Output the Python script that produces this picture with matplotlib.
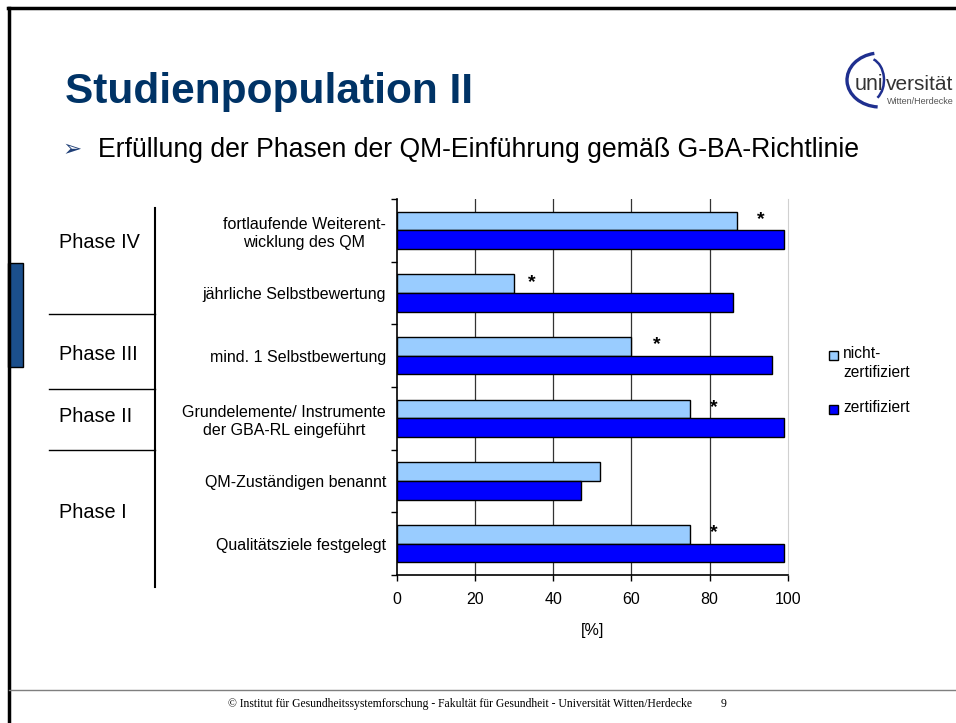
import numpy as np
import matplotlib.pyplot as plt
from matplotlib.patches import Rectangle, Arc

plt.rcParams['font.family'] = ['Liberation Sans', 'DejaVu Sans']

# Werte je Kategorie (oben -> unten), Anteil in %
kategorien = [
    'fortlaufende Weiterent-\nwicklung des QM',
    'jährliche Selbstbewertung',
    'mind. 1 Selbstbewertung',
    'Grundelemente/ Instrumente\nder GBA-RL eingeführt',
    'QM-Zuständigen benannt',
    'Qualitätsziele festgelegt',
]
nicht_zertifiziert = [87, 30, 60, 75, 52, 75]
zertifiziert = [99, 86, 96, 99, 47, 99]
# Position der Signifikanz-Sternchen (None = kein Stern)
stern_x = [93, 34.5, 66.5, 81, None, 81]

x_ticks = [0, 20, 40, 60, 80, 100]
serien_namen = ['nicht-\nzertifiziert', 'zertifiziert']
farbe_hell = '#99CCFF'
farbe_dunkel = '#0000FF'

W, H = 956, 723
fig = plt.figure(figsize=(W / 100, H / 100), dpi=100)

# Hintergrund-Achse in Pixelkoordinaten fuer Folienelemente
bg = fig.add_axes([0, 0, 1, 1])
bg.set_xlim(0, W)
bg.set_ylim(H, 0)
bg.axis('off')

# Folienrahmen
bg.plot([8, W], [8, 8], color='black', lw=2.5)
bg.plot([9, 9], [8, H], color='black', lw=2.5)
bg.add_patch(Rectangle((8, 263), 15, 104, facecolor='#1B4F8C', edgecolor='black', lw=1))
bg.plot([9, W], [690, 690], color='#7F7F7F', lw=1)

# Titel und Untertitel
bg.text(65, 103, 'Studienpopulation II', fontsize=30.5, fontweight='bold',
        color='#003366', va='baseline', ha='left')
bg.text(62, 156, '➢', fontsize=16.5, color='#1F3F77', va='baseline', ha='left',
        family=['DejaVu Sans'])
bg.text(98, 157, 'Erfüllung der Phasen der QM-Einführung gemäß G-BA-Richtlinie',
        fontsize=19.2, color='black', va='baseline', ha='left')

# Logo
bg.add_patch(Arc((880, 80), 66, 54, theta1=95, theta2=258, color='#1F2F8F', lw=2.4))
bg.add_patch(Arc((868, 80), 32, 44, theta1=-75, theta2=62, color='#1F2F8F', lw=1.8))
bg.text(855, 90, 'uni', fontsize=15.5, color='#333333', va='baseline', ha='left')
bg.text(886, 90, 'versität', fontsize=15, color='#333333', va='baseline', ha='left')
bg.text(887, 104, 'Witten/Herdecke', fontsize=6.5, color='#555555', va='baseline', ha='left')

# Fusszeile
bg.text(460, 707, '© Institut für Gesundheitssystemforschung - Fakultät für Gesundheit - '
        'Universität Witten/Herdecke', fontsize=8.4, family='Liberation Serif',
        ha='center', va='baseline', color='black')
bg.text(724, 707, '9', fontsize=8.4, family='Liberation Serif', ha='center',
        va='baseline', color='black')

# Phasen-Einteilung links
bg.plot([155.5, 155.5], [208, 587], color='black', lw=1.5)
for yy in [314, 389, 450]:
    bg.plot([49, 155.5], [yy, yy], color='black', lw=1)
for name, yy in [('Phase IV', 243), ('Phase III', 355), ('Phase II', 417), ('Phase I', 513)]:
    bg.text(59, yy, name, fontsize=14.3, ha='left', va='center', color='black')

# Legende: Kaestchen auf Hoehe der ersten Textzeile
for name, farbe, yy in zip(serien_namen, [farbe_hell, farbe_dunkel], [355, 409]):
    bg.add_patch(Rectangle((829, yy - 4.5), 9, 9, facecolor=farbe, edgecolor='black', lw=1))
    bg.text(843, yy - 9, name, fontsize=11.2, ha='left', va='top', color='black',
            linespacing=1.3)

# Balkendiagramm
ax = fig.add_axes([397 / W, 1 - 575 / H, 390.7 / W, 376 / H])
y = np.arange(len(kategorien))
h = 0.3
ax.barh(y - h / 2, nicht_zertifiziert, height=h, color=farbe_hell,
        edgecolor='black', lw=1, zorder=3)
ax.barh(y + h / 2, zertifiziert, height=h, color=farbe_dunkel,
        edgecolor='black', lw=1, zorder=3)

for i, sx in enumerate(stern_x):
    if sx is not None:
        ax.text(sx, y[i] - h / 2 - 0.02, '*', fontsize=14, fontweight='bold',
                ha='center', va='center', zorder=4)

ax.set_xlim(0, 100)
ax.set_ylim(len(kategorien) - 0.5, -0.5)
ax.set_xticks(x_ticks)
ax.set_xticklabels([str(t) for t in x_ticks], fontsize=11.5)
ax.set_yticks(np.arange(len(kategorien) + 1) - 0.5)
ax.set_yticklabels([])
ax.set_yticks(y, minor=True)
ax.set_yticklabels(kategorien, minor=True, fontsize=11.5, multialignment='center',
                   linespacing=1.3)
ax.tick_params(axis='y', which='minor', length=0, pad=8)
ax.tick_params(axis='y', which='major', length=4, width=1, direction='out')
ax.tick_params(axis='x', length=4, width=1, direction='out', pad=8)
ax.set_xlabel('[%]', fontsize=11.5, labelpad=12)

for gx in x_ticks[1:-1]:
    ax.axvline(gx, color='#333333', lw=0.9, zorder=1)
ax.spines['top'].set_visible(False)
ax.spines['right'].set_color('#D0D0D0')
ax.spines['left'].set_linewidth(1.2)
ax.spines['bottom'].set_linewidth(1.2)

fig.savefig('out.png', dpi=100)
